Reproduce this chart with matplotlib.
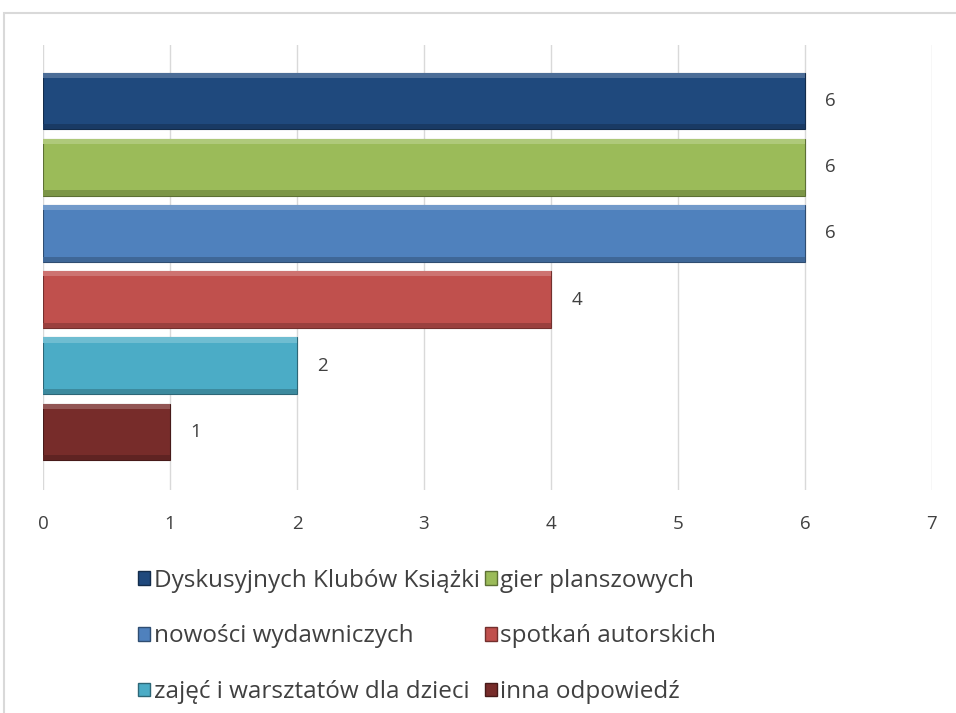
import matplotlib.pyplot as plt
from matplotlib.patches import Rectangle, Patch
import numpy as np

# categories (each one its own series, as in the source chart)
labels = ['Dyskusyjnych Klubów Książki', 'gier planszowych', 'nowości wydawniczych',
          'spotkań autorskich', 'zajęć i warsztatów dla dzieci', 'inna odpowiedź']
values = [6, 6, 6, 4, 2, 1]
colors = ['#1F497D', '#9BBB59', '#4F81BD', '#C0504D', '#4BACC6', '#772C2A']
x_ticks = [0, 1, 2, 3, 4, 5, 6, 7]

plt.rcParams['font.family'] = ['Open Sans', 'DejaVu Sans']
text_col = '#404040'

fig = plt.figure(figsize=(9.56, 7.13), dpi=100)

# outer chart frame (cut off at the right and bottom like the screenshot)
fig.patches.append(Rectangle((4 / 956, -0.1), 1.2, 1 - 13 / 713 + 0.1,
                             transform=fig.transFigure, fill=False,
                             edgecolor='#D9D9D9', linewidth=1.5))

ax = fig.add_axes([43 / 956, 1 - 490 / 713, (932 - 43) / 956, (490 - 45) / 713])

pos = np.arange(len(values))
h = 0.86

def shade(c, f):
    c = np.array(plt.matplotlib.colors.to_rgb(c))
    if f > 0:
        return tuple(c + (1 - c) * f)
    return tuple(c * (1 + f))

for p, v, c in zip(pos, values, colors):
    ax.barh(p, v, height=h, color=c, edgecolor=shade(c, -0.4), linewidth=0.8, zorder=3)
    # bevel: light top, dark bottom
    ax.barh(p - h / 2 + 0.04, v, height=0.08, color=shade(c, 0.2), linewidth=0, zorder=4)
    ax.barh(p + h / 2 - 0.04, v, height=0.08, color=shade(c, -0.2), linewidth=0, zorder=4)
    ax.text(v + 0.16, p, str(v), va='center', ha='left', fontsize=13.5, color=text_col)

ax.set_ylim(len(values) - 1 + 0.876, -0.846)
ax.set_xlim(0, 7)
ax.set_xticks(x_ticks)
ax.set_xticklabels([str(t) for t in x_ticks], fontsize=13.5, color=text_col)
ax.tick_params(axis='x', length=0, pad=18)
ax.set_yticks([])
ax.grid(axis='x', color='#D9D9D9', linewidth=1, zorder=0)
for s in ax.spines.values():
    s.set_visible(False)

handles = [Patch(facecolor=c, edgecolor=shade(c, -0.4), label=l) for c, l in zip(colors, labels)]
# legend fills column by column; reorder so it reads row by row
order = [0, 2, 4, 1, 3, 5]
leg = fig.legend(handles=[handles[i] for i in order], ncol=2, loc='upper left',
                 bbox_to_anchor=(116 / 956, 1 - 547 / 713), frameon=False,
                 fontsize=17.5, handlelength=0.5, handleheight=0.5,
                 handletextpad=0.15, columnspacing=0.2, labelspacing=1.3,
                 labelcolor=text_col)

fig.savefig('out.png', dpi=100)
